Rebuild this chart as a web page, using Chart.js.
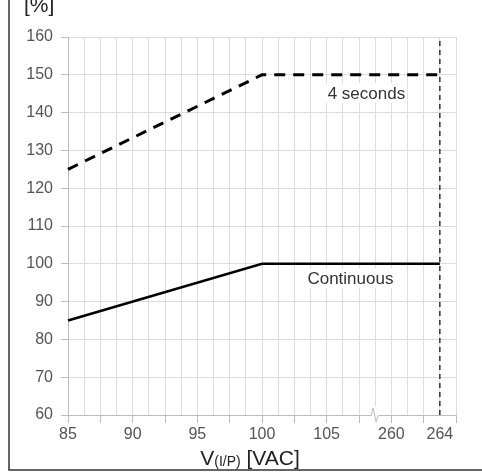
<!DOCTYPE html>
<html>
<head>
<meta charset="utf-8">
<script src="https://cdn.jsdelivr.net/npm/chart.js@4/dist/chart.umd.min.js"></script>
<style>
  html, body { margin: 0; padding: 0; background: #fff; }
  #wrap { width: 482px; height: 476px; position: relative; }
</style>
</head>
<body>
<div id="wrap"><canvas id="c" width="482" height="476"></canvas></div>
<script>
// ---- data ----
const xTickVolts = [85, 90, 95, 100, 105, 260, 264];
const yTickValues = [60, 70, 80, 90, 100, 110, 120, 130, 140, 150, 160];
const continuousVolts = [85, 100, 264];
const continuousPct = [85, 100, 100];
const fourSecVolts = [85, 100, 264];
const fourSecPct = [125, 150, 150];
const limitVolts = 264;
const limitPct = [60, 160];
const labelTexts = ['4 seconds', 'Continuous'];
const labelAxisX = [18.46, 17.47];   // position along the broken axis (grid units)
const labelPct = [145.2, 96.1];

// broken axis: 85..105 -> 0..16 (1.25 V per grid), 260..264 -> 20..23
function toAxis(v) {
  if (v <= 105) return (v - 85) / 1.25;
  return 20 + (v - 260) * 0.75;
}
const breakPos = 19;
const tickPosLabels = {};
xTickVolts.forEach(v => { tickPosLabels[toAxis(v)] = String(v); });

const FONT = '"Liberation Sans", Arial, sans-serif';
const tickColor = '#555555';
const gridColor = '#dcdcdc';
const axisColor = '#bdbdbd';

const pts = (xs, ys) => xs.map((v, i) => ({ x: toAxis(v), y: ys[i] }));

const decor = {
  id: 'decor',
  beforeDraw(chart) {
    const ctx = chart.ctx;
    ctx.save();
    ctx.fillStyle = '#fff';
    ctx.fillRect(0, 0, chart.width, chart.height);
    ctx.restore();
  },
  afterDatasetsDraw(chart) {
    const ctx = chart.ctx;
    const xs = chart.scales.x, ys = chart.scales.y;
    ctx.save();
    ctx.font = '17px ' + FONT;
    ctx.textAlign = 'center';
    ctx.textBaseline = 'middle';
    labelTexts.forEach((t, i) => {
      const px = xs.getPixelForValue(labelAxisX[i]);
      const py = ys.getPixelForValue(labelPct[i]);
      const w = ctx.measureText(t).width;
      ctx.fillStyle = '#fff';
      ctx.fillRect(px - w / 2 - 2, py - 10, w + 4, 20);
      ctx.fillStyle = '#333';
      ctx.fillText(t, px, py + 1);
    });
    ctx.restore();
  },
  afterDraw(chart) {
    const ctx = chart.ctx;
    const xs = chart.scales.x;
    const ca = chart.chartArea;
    ctx.save();
    // axis break
    const bx = xs.getPixelForValue(breakPos);
    const by = ca.bottom;
    ctx.fillStyle = '#fff';
    ctx.fillRect(bx - 6, by - 9, 12, 15);
    ctx.strokeStyle = axisColor;
    ctx.lineWidth = 1;
    ctx.beginPath();
    ctx.moveTo(bx - 7, by + 0.5);
    ctx.lineTo(bx - 4, by + 0.5);
    ctx.lineTo(bx - 2, by - 7);
    ctx.lineTo(bx + 1, by + 7);
    ctx.lineTo(bx + 3, by + 0.5);
    ctx.lineTo(bx + 7, by + 0.5);
    ctx.stroke();
    // outer frame (left + bottom)
    ctx.strokeStyle = '#333';
    ctx.lineWidth = 1.5;
    ctx.beginPath();
    ctx.moveTo(9, 0);
    ctx.lineTo(9, 470);
    ctx.lineTo(chart.width, 470);
    ctx.stroke();
    // y title
    ctx.fillStyle = '#222';
    ctx.font = '21px ' + FONT;
    ctx.textAlign = 'left';
    ctx.textBaseline = 'alphabetic';
    ctx.fillText('[%]', 24, 12);
    // x title with subscript
    const cx = (ca.left + ca.right) / 2;
    const p1 = 'V', p2 = '(I/P)', p3 = ' [VAC]';
    ctx.font = '21px ' + FONT;
    const w1 = ctx.measureText(p1).width;
    const w3 = ctx.measureText(p3).width;
    ctx.font = '14px ' + FONT;
    const w2 = ctx.measureText(p2).width;
    let x0 = cx - (w1 + w2 + w3) / 2 - 12;
    const base = 465;
    ctx.font = '21px ' + FONT;
    ctx.fillText(p1, x0, base);
    ctx.font = '14px ' + FONT;
    ctx.fillText(p2, x0 + w1, base + 1);
    ctx.font = '21px ' + FONT;
    ctx.fillText(p3, x0 + w1 + w2, base);
    ctx.restore();
  }
};

new Chart(document.getElementById('c'), {
  type: 'line',
  data: {
    datasets: [
      {
        label: '4 seconds',
        data: pts(fourSecVolts, fourSecPct),
        borderColor: '#000',
        borderWidth: 3,
        borderDash: [11, 8],
        pointRadius: 0,
        tension: 0,
        clip: false
      },
      {
        label: 'Continuous',
        data: pts(continuousVolts, continuousPct),
        borderColor: '#000',
        borderWidth: 2.5,
        pointRadius: 0,
        tension: 0,
        clip: false
      },
      {
        label: 'limit',
        data: limitPct.map(p => ({ x: toAxis(limitVolts), y: p })),
        borderColor: '#333',
        borderWidth: 1.5,
        borderDash: [5, 4],
        pointRadius: 0,
        clip: false
      }
    ]
  },
  options: {
    responsive: false,
    animation: false,
    devicePixelRatio: 1,
    layout: { padding: { top: 37, right: 26, left: 0, bottom: 0 } },
    plugins: { legend: { display: false }, tooltip: { enabled: false } },
    scales: {
      x: {
        type: 'linear',
        min: 0,
        max: 24,
        afterFit(s) { s.height = 61; },
        ticks: {
          stepSize: 1,
          autoSkip: false,
          maxRotation: 0,
          padding: 2,
          color: tickColor,
          font: { family: FONT, size: 16 },
          callback: (v) => tickPosLabels[v] !== undefined ? tickPosLabels[v] : ''
        },
        grid: {
          color: gridColor,
          lineWidth: 1,
          tickLength: 8,
          tickColor: (c) => (c.tick && c.tick.value % 2 === 0) ? axisColor : 'rgba(0,0,0,0)'
        },
        border: { color: axisColor, width: 1 }
      },
      y: {
        type: 'linear',
        min: yTickValues[0],
        max: yTickValues[yTickValues.length - 1],
        afterFit(s) { s.width = 68; },
        afterBuildTicks(s) { s.ticks = yTickValues.map(v => ({ value: v })); },
        ticks: {
          padding: 8,
          color: tickColor,
          font: { family: FONT, size: 16 }
        },
        grid: { color: gridColor, lineWidth: 1, tickLength: 7, tickColor: axisColor },
        border: { color: axisColor, width: 1 }
      }
    }
  },
  plugins: [decor]
});
</script>
</body>
</html>
